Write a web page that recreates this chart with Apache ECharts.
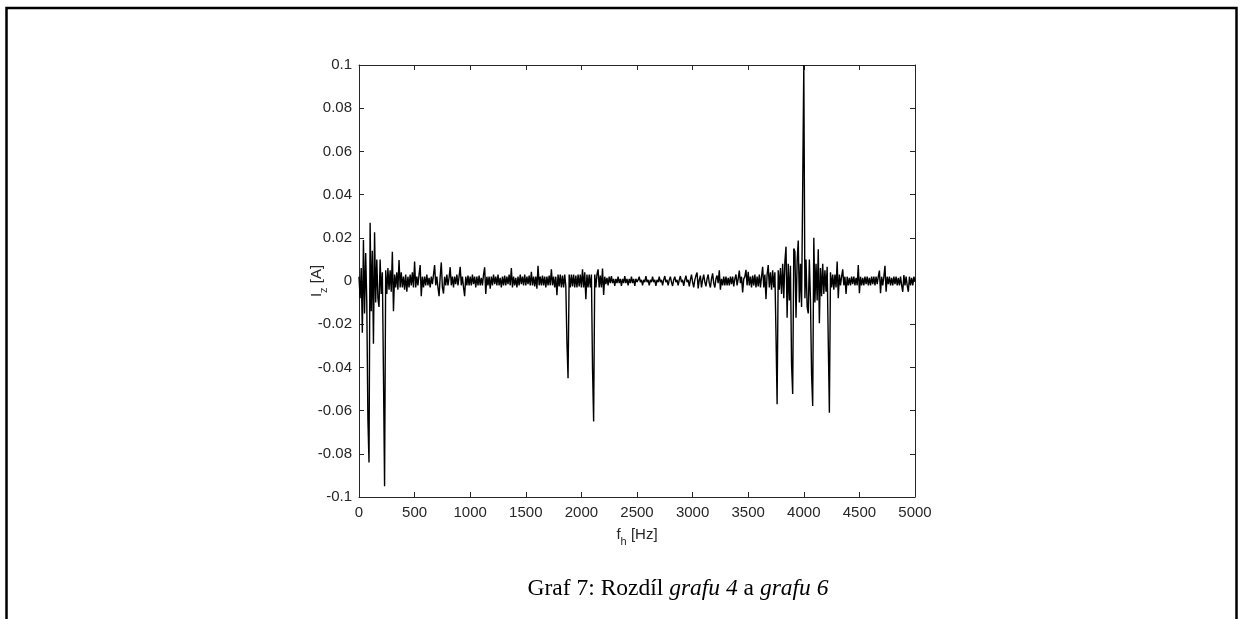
<!DOCTYPE html>
<html>
<head>
<meta charset="utf-8">
<script src="https://cdn.jsdelivr.net/npm/echarts@6/dist/echarts.min.js"></script>
<style>
html,body{margin:0;padding:0;background:#fff;}
#chart{width:1243px;height:619px;}
</style>
</head>
<body>
<div id="chart"></div>
<script>
// Frequency grid of the spectrum: 0 .. 5000 Hz, one sample every 10 Hz
const freqStartHz = 0;
const freqStepHz = 10;

// I_z [A] values, per 500 Hz block
const iz0000 = [0.002,-0.008,0.006,-0.024,0.019,-0.015,0.013,-0.010,-0.064,-0.084,
  0.027,-0.014,0.014,-0.029,0.0226,-0.010,0.010,-0.008,-0.012,0.010,
  -0.006,0.004,-0.043,-0.095,0.005,-0.006,0.006,-0.004,0.005,-0.005,
  0.0135,-0.014,0.003,-0.003,0.004,-0.004,0.0097,-0.003,0.004,-0.003,
  0.002,-0.004,0.003,-0.005,0.002,-0.003,0.003,-0.002,0.004,-0.003];
const iz0500 = [0.009,-0.003,0.002,-0.002,0.003,0.0074,-0.007,0.002,-0.003,0.002,
  -0.002,0.003,-0.002,0.0015,-0.003,0.002,-0.0015,0.003,0.0074,-0.002,
  0.002,-0.003,-0.007,0.002,0.0086,-0.003,-0.0058,0.002,-0.002,0.003,
  -0.002,0.0015,0.0064,-0.002,0.002,-0.003,0.002,-0.0015,0.003,-0.002,
  0.002,0.0066,-0.002,0.002,-0.003,-0.007,0.002,-0.002,0.0025,-0.002];
const iz1000 = [0.002,-0.002,0.003,-0.0015,0.002,-0.003,0.002,-0.002,0.0025,-0.002,
  0.0015,-0.002,0.003,0.0063,-0.006,0.002,-0.002,0.002,-0.0036,0.002,
  -0.002,0.003,-0.0015,0.002,-0.002,0.003,-0.002,0.0015,-0.003,0.002,
  -0.002,0.0025,-0.002,0.002,-0.0015,0.003,-0.002,0.006,-0.003,0.002,
  -0.002,0.0015,-0.003,0.002,-0.002,0.003,-0.0015,0.002,-0.002,0.003];
const iz1500 = [-0.002,0.002,-0.0015,0.0025,-0.002,0.0043,-0.002,0.002,-0.0025,0.002,
  -0.0036,0.007,-0.002,0.002,-0.002,0.0025,-0.002,0.002,-0.003,0.002,
  -0.002,0.0025,-0.002,0.0054,-0.002,0.002,-0.003,0.002,-0.0066,0.003,
  -0.0025,0.003,-0.003,0.0025,-0.003,0.003,-0.0025,-0.0287,-0.045,0.003,
  -0.003,0.003,-0.0025,0.003,-0.003,0.0025,-0.003,0.003,-0.0025,0.003];
const iz2000 = [-0.003,0.0054,-0.003,0.004,-0.0084,0.003,-0.003,0.003,-0.003,0.003,
  -0.0404,-0.065,0.003,-0.003,0.003,0.0054,-0.003,0.0025,-0.003,0.0058,
  -0.0065,0.002,-0.0015,0.0015,-0.002,0.002,-0.001,0.0023,-0.001,0.001,
  -0.0023,0.001,-0.001,0.002,-0.001,0.001,-0.0023,0.001,-0.001,0.0023,
  -0.001,0.001,-0.002,0.001,-0.001,0.002,-0.001,0.001,-0.0023,0.001];
const iz2500 = [-0.0005,0.0005,0.002,-0.0005,0.0005,-0.002,0.0005,-0.0005,0.0023,-0.0005,
  0.0005,-0.002,0.0005,-0.0005,0.002,-0.0005,0.0005,-0.0023,0.0005,-0.0005,
  0.002,-0.0005,0.0005,-0.002,0.0005,0.0023,-0.0005,0.0005,-0.002,0.0005,
  0.002,-0.0005,-0.0023,0.0005,0.002,-0.0005,0.0005,-0.002,0.0005,0.0023,
  -0.0005,0.0005,-0.0023,0.0005,0.0025,-0.0005,0.0005,-0.0025,0.0005,0.003];
const iz3000 = [-0.0005,-0.003,0.0005,0.0025,0.0039,-0.0034,0.0005,0.0025,-0.003,0.0005,
  0.003,-0.0005,-0.0025,0.001,0.003,-0.001,-0.003,0.001,0.0035,-0.001,
  -0.003,0.001,0.0025,-0.001,0.005,-0.004,0.001,-0.002,0.002,-0.002,
  0.002,-0.002,0.0015,-0.002,0.002,-0.0015,0.002,-0.0025,0.001,0.003,
  -0.002,0.001,0.0048,-0.001,0.002,-0.0053,0.001,0.002,0.0052,-0.002];
const iz3500 = [0.0043,-0.002,0.002,-0.003,0.0025,-0.002,0.003,-0.003,0.002,-0.0025,
  0.003,-0.003,0.002,0.0066,-0.003,0.003,-0.0084,0.003,0.0074,-0.003,
  0.004,-0.004,0.005,-0.003,0.004,-0.025,-0.057,0.005,-0.004,0.006,
  -0.006,0.008,-0.008,0.009,0.0159,-0.017,0.008,-0.009,0.007,-0.0389,
  -0.0523,0.015,0.0137,-0.017,0.009,0.0187,-0.010,0.008,-0.012,0.0432];
const iz4000 = [0.100,-0.008,0.010,-0.012,-0.015,0.010,-0.009,-0.0435,-0.0579,0.020,
  -0.010,0.008,-0.009,0.0147,-0.0196,0.006,-0.007,0.008,-0.006,0.005,
  -0.005,0.0066,-0.028,-0.061,0.004,-0.003,0.003,-0.004,0.003,-0.003,
  0.009,-0.008,0.003,-0.002,0.002,0.0054,-0.002,0.002,-0.006,0.002,
  -0.002,0.0015,-0.002,0.002,-0.0015,0.002,-0.002,0.0015,-0.002,0.0074];
const iz4500 = [-0.0057,0.002,-0.002,0.0015,-0.002,0.002,-0.0015,0.002,-0.002,0.0015,
  -0.002,0.002,-0.0015,0.002,-0.002,0.002,-0.0015,0.002,0.0048,-0.0057,
  0.002,-0.002,0.002,0.007,-0.005,0.002,-0.0015,0.002,-0.002,0.0015,
  -0.002,0.002,-0.0015,0.002,-0.002,0.0015,-0.002,0.002,-0.002,-0.005,
  0.0028,-0.002,0.002,-0.002,-0.005,0.002,-0.002,0.0015,-0.002,0.002,
  0];

const xTickMin = 0, xTickMax = 5000, xTickStep = 500;
const yTickMin = -0.1, yTickMax = 0.1, yTickStep = 0.02;

const izAll = [].concat(iz0000, iz0500, iz1000, iz1500, iz2000, iz2500, iz3000, iz3500, iz4000, iz4500);
const seriesData = izAll.map((v, i) => [freqStartHz + i * freqStepHz, v]);

const axisColor = '#262626';
const labelFont = 'Liberation Sans, Arial, sans-serif';
const subRich = {
  m: {fontSize: 15, fontFamily: labelFont, color: axisColor, lineHeight: 24, verticalAlign: 'middle'},
  s: {fontSize: 11, fontFamily: labelFont, color: axisColor, lineHeight: 24, verticalAlign: 'bottom'}
};

const chart = echarts.init(document.getElementById('chart'), null, {renderer: 'canvas'});
chart.setOption({
  animation: false,
  backgroundColor: '#ffffff',
  grid: {left: 359, right: 328, top: 65, bottom: 122, containLabel: false},
  xAxis: [{
    type: 'value', position: 'bottom', min: xTickMin, max: xTickMax, interval: xTickStep,
    axisLine: {show: true, onZero: false, lineStyle: {color: axisColor, width: 1}},
    axisTick: {show: true, inside: true, length: 5, lineStyle: {color: axisColor}},
    axisLabel: {show: true, margin: 8, color: axisColor, fontSize: 15, fontFamily: labelFont,
      formatter: v => String(v)},
    splitLine: {show: false},
    name: '{m|f}{s|h}{m| [Hz]}', nameLocation: 'middle', nameGap: 26,
    nameMoveOverlap: false,
    nameTextStyle: {rich: subRich}
  }, {
    type: 'value', position: 'top', min: xTickMin, max: xTickMax, interval: xTickStep,
    axisLine: {show: true, onZero: false, lineStyle: {color: axisColor, width: 1}},
    axisTick: {show: true, inside: true, length: 5, lineStyle: {color: axisColor}},
    axisLabel: {show: false}, splitLine: {show: false}
  }],
  yAxis: [{
    type: 'value', position: 'left', min: yTickMin, max: yTickMax, interval: yTickStep,
    axisLine: {show: true, onZero: false, lineStyle: {color: axisColor, width: 1}},
    axisTick: {show: true, inside: true, length: 5, lineStyle: {color: axisColor}},
    axisLabel: {show: true, margin: 7, color: axisColor, fontSize: 15, fontFamily: labelFont,
      formatter: v => String(parseFloat(v.toFixed(2)))},
    splitLine: {show: false},
    name: '{m|I}{s|z}{m| [A]}', nameLocation: 'middle', nameGap: 30, nameRotate: 90,
    nameMoveOverlap: false,
    nameTextStyle: {rich: subRich}
  }, {
    type: 'value', position: 'right', min: yTickMin, max: yTickMax, interval: yTickStep,
    axisLine: {show: true, onZero: false, lineStyle: {color: axisColor, width: 1}},
    axisTick: {show: true, inside: true, length: 5, lineStyle: {color: axisColor}},
    axisLabel: {show: false}, splitLine: {show: false}
  }],
  series: [{
    type: 'line', xAxisIndex: 0, yAxisIndex: 0, data: seriesData,
    symbol: 'none', showSymbol: false, sampling: null, clip: true,
    lineStyle: {color: '#000000', width: 1.4}
  }],
  graphic: [{
    type: 'polyline', silent: true,
    shape: {points: [[6.5, 619], [6.5, 8], [1236.5, 8], [1236.5, 619]]},
    style: {stroke: '#000', lineWidth: 2.5, fill: null}
  }, {
    type: 'text', x: 678, y: 589, silent: true,
    style: {
      text: '{n|Graf 7: Rozdíl }{i|grafu 4}{n| a }{i|grafu 6}',
      align: 'center', verticalAlign: 'middle',
      rich: {
        n: {fontSize: 23.5, fontFamily: 'Liberation Serif, Times New Roman, serif', fill: '#000'},
        i: {fontSize: 23.5, fontFamily: 'Liberation Serif, Times New Roman, serif', fontStyle: 'italic', fill: '#000'}
      }
    }
  }]
});
</script>
</body>
</html>
